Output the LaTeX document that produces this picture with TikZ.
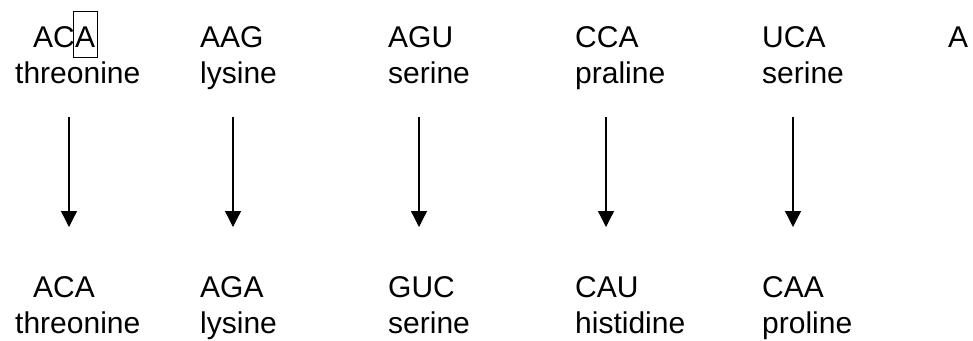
\documentclass[tikz,border=0pt]{standalone}
\usepackage{fontspec}
\setmainfont{Liberation Sans}
\usetikzlibrary{arrows.meta}
\tikzset{
  lbl/.style={anchor=base west, inner sep=0pt, font=\fontsize{30}{36}\selectfont},
  boxlbl/.style={lbl, draw, line width=1pt, inner xsep=2pt, text height=36pt, text depth=10pt, inner ysep=0pt},
  conv/.style={line width=1.3pt, -{Triangle[width=16pt,length=16pt]}}
}
\begin{document}
\begin{tikzpicture}[x=1pt,y=-1pt]
\useasboundingbox (0,0) rectangle (973,340);
% top row codons
\node[lbl] (c1a) at (33,47) {AC};
\node[boxlbl, anchor=base west, xshift=-2.5pt] (c1box) at (c1a.base east) {A};
\node[lbl] (c2) at (200,47) {AAG};
\node[lbl] (c3) at (388,47) {AGU};
\node[lbl] (c4) at (575,47) {CCA};
\node[lbl] (c5) at (762,47) {UCA};
\node[lbl] (c6) at (948,47) {A};
% top row amino acids
\node[lbl] (a1) at (15,83) {threonine};
\node[lbl] (a2) at (200,83) {lysine};
\node[lbl] (a3) at (388,83) {serine};
\node[lbl] (a4) at (575,83) {praline};
\node[lbl] (a5) at (762,83) {serine};
% bottom row codons
\node[lbl] (d1) at (33,297) {ACA};
\node[lbl] (d2) at (200,297) {AGA};
\node[lbl] (d3) at (388,297) {GUC};
\node[lbl] (d4) at (575,297) {CAU};
\node[lbl] (d5) at (762,297) {CAA};
% bottom row amino acids
\node[lbl] (e1) at (15,333) {threonine};
\node[lbl] (e2) at (200,333) {lysine};
\node[lbl] (e3) at (388,333) {serine};
\node[lbl] (e4) at (575,333) {histidine};
\node[lbl] (e5) at (762,333) {proline};
% arrow ends
\coordinate (t1) at (69,117);  \coordinate (b1) at (69,227);
\coordinate (t2) at (233,117); \coordinate (b2) at (233,227);
\coordinate (t3) at (419,117); \coordinate (b3) at (419,227);
\coordinate (t4) at (606,117); \coordinate (b4) at (606,227);
\coordinate (t5) at (793,117); \coordinate (b5) at (793,227);
\foreach \i in {1,...,5} { \draw[conv] (t\i) -- (b\i); }
\end{tikzpicture}
\end{document}
